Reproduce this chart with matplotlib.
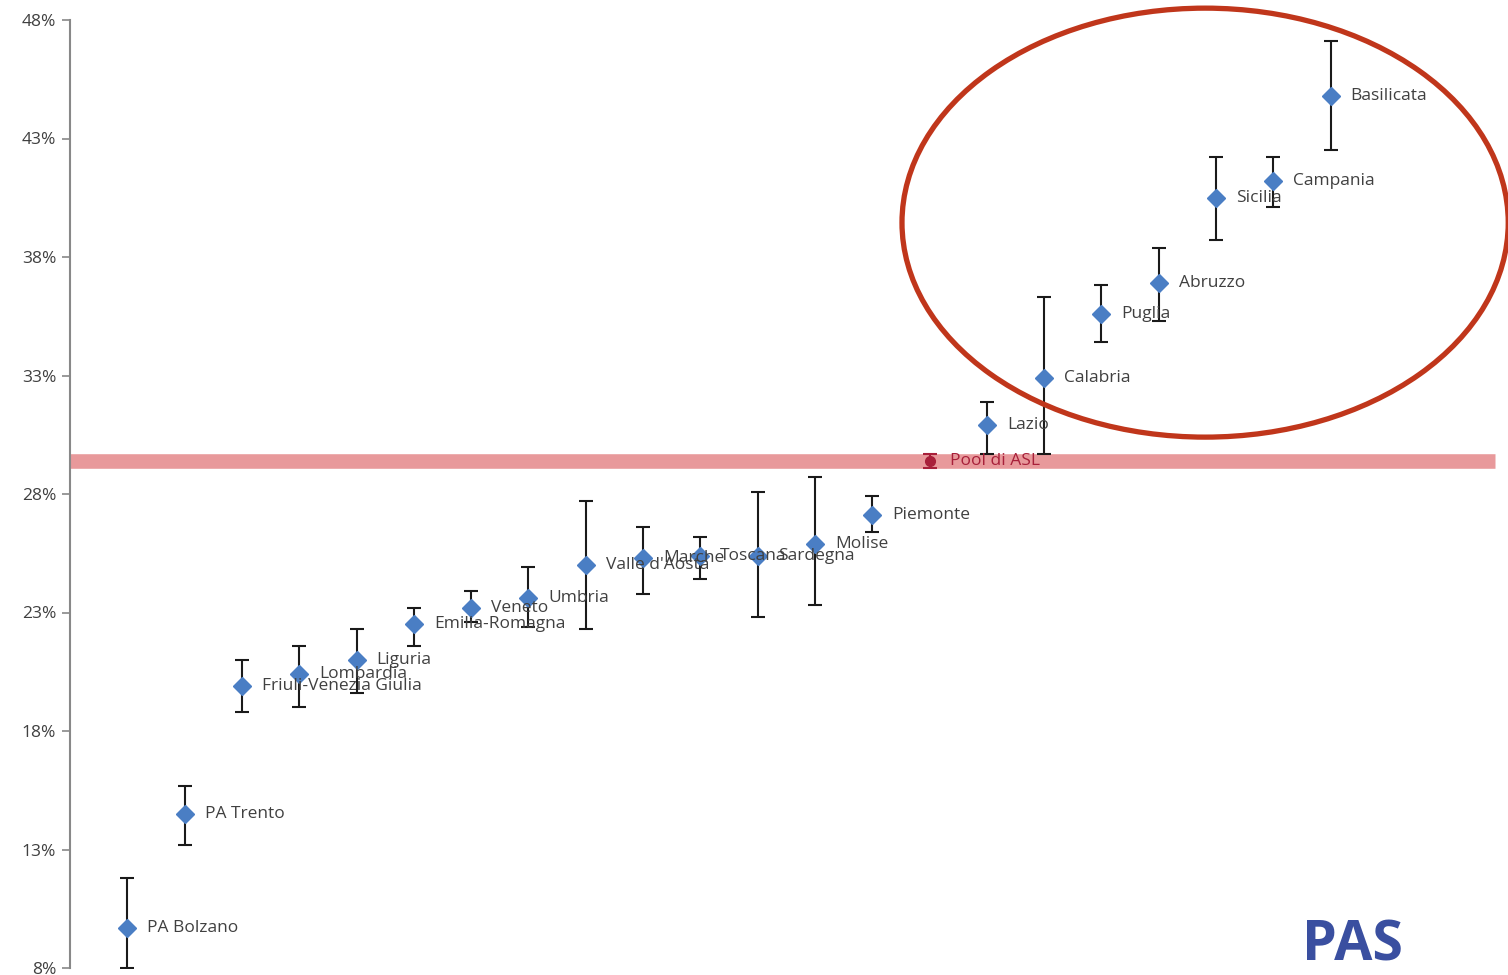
import matplotlib.pyplot as plt
from matplotlib.patches import Ellipse
import numpy as np

regions = ["PA Bolzano", "PA Trento", "Friuli-Venezia Giulia", "Lombardia", "Liguria",
           "Emilia-Romagna", "Veneto", "Umbria", "Valle d'Aosta", "Marche", "Toscana",
           "Sardegna", "Molise", "Piemonte", "Pool di ASL", "Lazio", "Calabria", "Puglia",
           "Abruzzo", "Sicilia", "Campania", "Basilicata"]
value = [9.7, 14.5, 19.9, 20.4, 21.0, 22.5, 23.2, 23.6, 25.0, 25.3, 25.4,
         25.4, 25.9, 27.1, 29.4, 30.9, 32.9, 35.6, 36.9, 40.5, 41.2, 44.8]
low = [8.0, 13.2, 18.8, 19.0, 19.6, 21.6, 22.6, 22.4, 22.3, 23.8, 24.4,
       22.8, 23.3, 26.4, 29.1, 29.7, 29.7, 34.4, 35.3, 38.7, 40.1, 42.5]
high = [11.8, 15.7, 21.0, 21.6, 22.3, 23.2, 23.9, 24.9, 27.7, 26.6, 26.2,
        28.1, 28.7, 27.9, 29.7, 31.9, 36.3, 36.8, 38.4, 42.2, 42.2, 47.1]
yticks = [8, 13, 18, 23, 28, 33, 38, 43, 48]

plt.rcParams['font.family'] = ['Open Sans', 'DejaVu Sans']

fig = plt.figure(figsize=(15.08, 9.75), dpi=100)
ax = fig.add_axes([70 / 1508, 1 - 968 / 975, 1 - 70 / 1508, (968 - 20) / 975])

x = np.arange(1, len(regions) + 1)
v = np.array(value)
err = [v - np.array(low), np.array(high) - v]
pool = regions.index("Pool di ASL")

# reference band for the pool
ax.axhline(value[pool], xmin=0, xmax=(1495 - 70) / 1438, color='#E8999B',
           linewidth=10.5, solid_capstyle='butt', zorder=1)

for i in range(len(regions)):
    is_pool = i == pool
    ax.errorbar(x[i], v[i], yerr=[[err[0][i]], [err[1][i]]], fmt='D' if not is_pool else 'o',
                color='#4A7EC4' if not is_pool else '#A8203A', markersize=9 if not is_pool else 7,
                ecolor='#1A1A1A' if not is_pool else '#A8203A', elinewidth=1.5,
                capsize=5, capthick=1.5, zorder=3)
    ax.text(x[i] + 0.35, v[i], regions[i], va='center', ha='left', fontsize=12.5,
            color='#A8203A' if is_pool else '#404040', zorder=4)

ax.add_patch(Ellipse((19.81, 39.45), 10.58, 18.1, fill=False, edgecolor='#C0361B',
                     linewidth=3.8, clip_on=False, zorder=5))

ax.set_xlim(0, 1438 / 57.3)
ax.set_ylim(8, 48)
ax.set_yticks(yticks)
ax.set_yticklabels([f"{t}%" for t in yticks], fontsize=12.5, color='#404040')
ax.tick_params(axis='y', color='#888888', length=6, width=1.2, pad=4)
ax.set_xticks([])
for s in ['top', 'right', 'bottom']:
    ax.spines[s].set_visible(False)
ax.spines['left'].set_color('#888888')
ax.spines['left'].set_linewidth(1.5)

fig.text(1302 / 1508, 0.002, "PAS", fontsize=40, fontweight='bold', color='#3A4FA0',
         ha='left', va='bottom')

fig.savefig("out.png", dpi=100)
